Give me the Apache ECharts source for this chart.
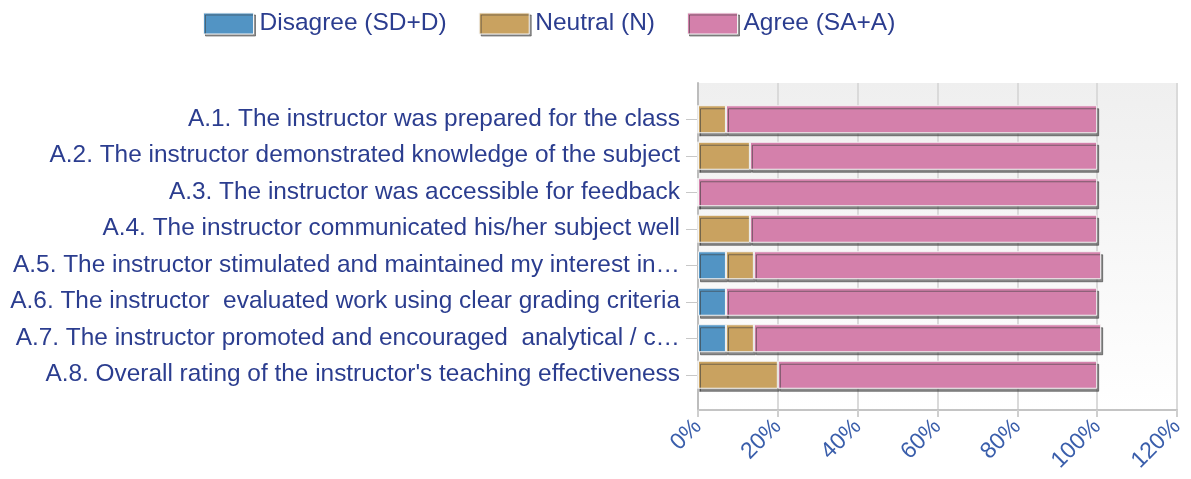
<!DOCTYPE html>
<html>
<head>
<meta charset="utf-8">
<script src="https://cdn.jsdelivr.net/npm/echarts@6/dist/echarts.min.js"></script>
<style>html,body{margin:0;padding:0;background:#fff;}#c{width:1191px;height:479px;}</style>
</head>
<body>
<div id="c"></div>
<script>
const categories = [
  "A.1. The instructor was prepared for the class",
  "A.2. The instructor demonstrated knowledge of the subject",
  "A.3. The instructor was accessible for feedback",
  "A.4. The instructor communicated his/her subject well",
  "A.5. The instructor stimulated and maintained my interest in…",
  "A.6. The instructor  evaluated work using clear grading criteria",
  "A.7. The instructor promoted and encouraged  analytical / c…",
  "A.8. Overall rating of the instructor's teaching effectiveness"
];
const seriesNames = ["Disagree (SD+D)", "Neutral (N)", "Agree (SA+A)"];
const disagree = [0, 0, 0, 0, 7, 7, 7, 0];
const neutral  = [7, 13, 0, 13, 7, 0, 7, 20];
const agree    = [93, 87, 100, 87, 87, 93, 87, 80];
const xTicks = [0, 20, 40, 60, 80, 100, 120];

const colors = ["#5294c4", "#c9a260", "#d480ab"];
const textColor = "#2b3d8f";
const font = "'Liberation Sans', Arial, sans-serif";

const chart = echarts.init(document.getElementById('c'));
const barStyle = (c) => ({
  color: c,
  borderColor: "#f4f4f4",
  borderWidth: 1,
  shadowColor: "rgba(60,60,60,0.6)",
  shadowOffsetX: 2,
  shadowOffsetY: 3,
  shadowBlur: 0
});
const values = [disagree, neutral, agree];
chart.setOption({
  animation: false,
  color: colors,
  textStyle: { fontFamily: font },
  legend: {
    left: 203, top: 11, padding: 0,
    itemWidth: 50, itemHeight: 21, itemGap: 32,
    icon: "rect",
    textStyle: { fontSize: 24.5, color: textColor, fontFamily: font, padding: [0, 0, 0, 1] },
    itemStyle: { borderColor: "#f4f4f4", borderWidth: 1, shadowColor: "rgba(60,60,60,0.55)", shadowOffsetX: 2, shadowOffsetY: 2, shadowBlur: 0 },
    data: seriesNames
  },
  grid: [
    { left: 698, right: 14, top: 83, bottom: 69, show: true, borderWidth: 0,
      backgroundColor: new echarts.graphic.LinearGradient(0, 0, 0, 1, [
        { offset: 0, color: "#efefef" }, { offset: 1, color: "#ffffff" }]) },
    { left: 698, right: 14, top: 101, bottom: 86 }
  ],
  xAxis: [
    { gridIndex: 0, type: "value", min: 0, max: 120, interval: 20,
      axisLine: { show: true, lineStyle: { color: "#c4c4c4", width: 2 } },
      axisTick: { show: true, length: 7, lineStyle: { color: "#cfcfcf", width: 2 } },
      splitLine: { show: true, lineStyle: { color: "#dadada", width: 2 } },
      axisLabel: { rotate: 45, margin: 13, fontSize: 23, color: "#3a5eab", fontFamily: font,
        formatter: (v) => xTicks.includes(v) ? v + "%" : "" } },
    { gridIndex: 1, type: "value", min: 0, max: 120, interval: 20, show: false }
  ],
  yAxis: [
    { gridIndex: 0, type: "category", data: categories, inverse: true,
      axisLine: { show: true, lineStyle: { color: "#bdbdbd", width: 2 } },
      axisTick: { show: false }, axisLabel: { show: false }, splitLine: { show: false } },
    { gridIndex: 1, type: "category", data: categories, inverse: true,
      axisLine: { show: true, lineStyle: { color: "rgba(0,0,0,0)" } },
      axisTick: { show: true, alignWithLabel: true, length: 12, lineStyle: { color: "#c8c8c8", width: 1 } },
      axisLabel: { fontSize: 24.4, color: textColor, margin: 18, fontFamily: font } }
  ],
  series: seriesNames.map((n, i) => ({
    name: n, type: "bar", stack: "total", xAxisIndex: 1, yAxisIndex: 1,
    barWidth: 28, itemStyle: barStyle(colors[i]), data: values[i]
  }))
});
</script>
</body>
</html>
